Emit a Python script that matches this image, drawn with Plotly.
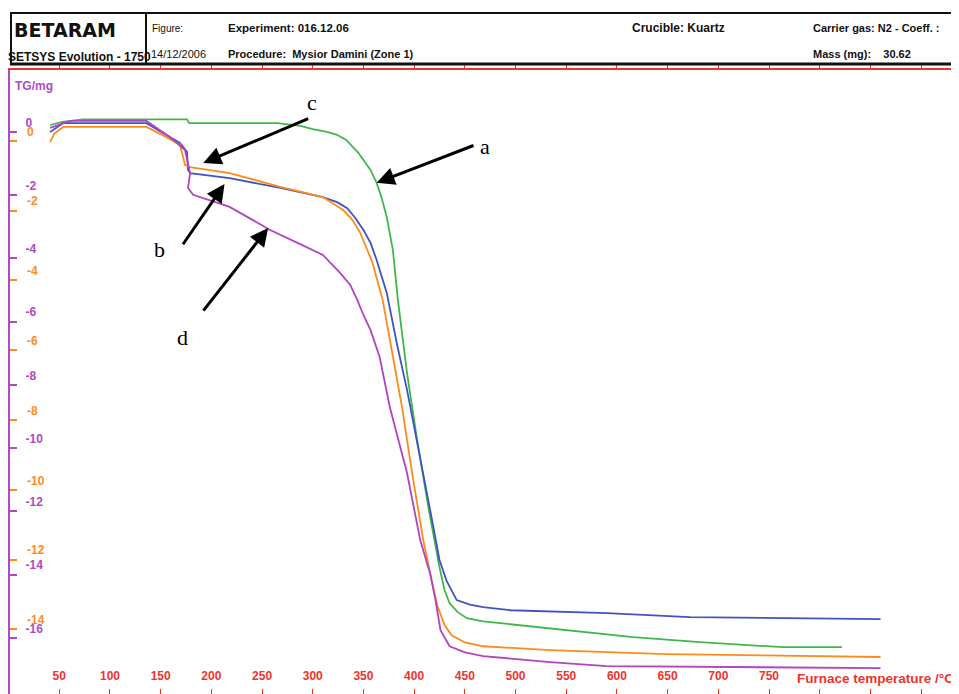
import plotly.graph_objects as go

# ---------------- data ----------------
temp_a = [41, 53, 73, 176, 178, 265, 288, 300, 314, 324, 333, 340, 345, 350, 357, 363, 368, 373, 379, 384,
          389, 393, 403, 414, 425, 430, 435, 443, 452, 468, 485, 551, 616, 682, 764, 822]
mass_a = [0.22, 0.32, 0.40, 0.40, 0.28, 0.28, 0.19, 0.09, 0.0, -0.09, -0.25, -0.47, -0.66, -0.89, -1.20, -1.61, -2.09, -2.69, -3.73, -5.32,
          -6.70, -7.63, -9.75, -11.87, -13.77, -14.50, -14.91, -15.19, -15.38, -15.48, -15.54, -15.76, -15.98, -16.14, -16.30, -16.30]

temp_b = [41, 54, 136, 152, 169, 176, 177, 179, 218, 268, 310, 324, 334, 342, 350, 357, 363, 373, 383, 393,
          406, 419, 425, 432, 442, 455, 468, 495, 590, 672, 860]
mass_b = [0.0, 0.28, 0.28, -0.03, -0.35, -0.63, -1.20, -1.30, -1.46, -1.77, -2.06, -2.22, -2.41, -2.72, -3.10, -3.51, -4.05, -5.09, -6.70, -8.16,
          -10.28, -12.50, -13.54, -14.20, -14.81, -14.95, -15.03, -15.13, -15.22, -15.35, -15.41]

temp_c = [41, 45, 54, 136, 152, 169, 174, 179, 218, 268, 310, 330, 339, 347, 353, 359, 369, 376, 388, 398,
          409, 416, 423, 430, 437, 450, 468, 534, 649, 860]
mass_c = [-0.32, -0.05, 0.16, 0.16, -0.10, -0.40, -1.04, -1.11, -1.30, -1.74, -2.06, -2.47, -2.78, -3.20, -3.67, -4.15, -5.32, -6.58, -8.70, -10.79,
          -12.91, -14.00, -15.00, -15.60, -15.92, -16.15, -16.27, -16.39, -16.52, -16.61]

temp_d = [41, 61, 136, 159, 174, 179, 177, 182, 218, 258, 285, 310, 327, 337, 344, 350, 357, 362, 366, 376,
          393, 406, 416, 421, 426, 435, 450, 468, 534, 590, 860]
mass_d = [0.13, 0.35, 0.35, -0.16, -0.57, -1.30, -1.77, -1.99, -2.37, -3.10, -3.51, -3.89, -4.46, -4.84, -5.32, -5.79, -6.27, -6.74, -7.12, -8.70,
          -10.79, -12.91, -14.00, -14.80, -15.76, -16.27, -16.46, -16.58, -16.77, -16.90, -16.96]

x_ticks = [50, 100, 150, 200, 250, 300, 350, 400, 450, 500, 550, 600, 650, 700, 750, 800, 850, 900]
x_tick_labels = ["50", "100", "150", "200", "250", "300", "350", "400", "450", "500", "550", "600", "650", "700", "750", "", "", ""]
y_ticks_purple = [0, -2, -4, -6, -8, -10, -12, -14, -16]
y_ticks_orange = [0, -2, -4, -6, -8, -10, -12, -14]

# labels and arrows: (label, text position T, mg, arrow tail T, mg, arrow head T, mg)
labels = [
    ("a", 470, -0.45, 460, -0.41, 363, -1.61),
    ("b", 149, -3.73, 171, -3.60, 213, -1.65),
    ("c", 299, 0.92, 297, 0.44, 192, -0.98),
    ("d", 172, -6.49, 191, -5.70, 256, -3.04),
]

# ---------------- styling ----------------
OFF = 8                      # default page body margin
PAGE_W, PAGE_H = 959, 694
W, H = PAGE_W - OFF, PAGE_H - OFF
PL, PT = 10, 70              # plot area left / top in page pixels
GREEN = "#3fb84a"
BLUE = "#4152c4"
ORANGE = "#ff8a1c"
MAGENTA = "#b243c2"
RED = "#f0332e"
PURPLE = "#b04ac0"


def px(x):
    return (x - PL) / (PAGE_W - PL)


def py(y):
    return (PAGE_H - y) / (PAGE_H - PT)


fig = go.Figure()
for t, m, c in [(temp_a, mass_a, GREEN), (temp_b, mass_b, BLUE),
                (temp_c, mass_c, ORANGE), (temp_d, mass_d, MAGENTA)]:
    fig.add_trace(go.Scatter(x=t, y=m, mode="lines", line=dict(color=c, width=1.8),
                             showlegend=False, hoverinfo="skip"))

# invisible helper so the secondary axes are drawn
fig.add_trace(go.Scatter(x=[100], y=[0], xaxis="x2", yaxis="y2", mode="markers",
                         marker=dict(opacity=0), showlegend=False, hoverinfo="skip"))

fig.update_layout(
    width=W, height=H,
    margin=dict(l=PL - OFF, r=0, t=PT - OFF, b=0),
    paper_bgcolor="white", plot_bgcolor="white",
    xaxis=dict(range=[1.4, 937.4], tickmode="array", tickvals=x_ticks, ticktext=x_tick_labels,
               ticks="inside", ticklen=5, tickcolor=RED, tickwidth=1,
               ticklabelposition="inside", ticklabelstandoff=6,
               tickfont=dict(family="Liberation Sans", size=12, color=RED, weight="bold"),
               showgrid=False, zeroline=False, showline=False),
    xaxis2=dict(range=[1.4, 937.4], overlaying="x", side="top", tickmode="array",
                tickvals=x_ticks, ticks="outside", ticklen=5, tickcolor=RED,
                showticklabels=False, showgrid=False, zeroline=False,
                showline=True, linecolor=RED, linewidth=2),
    yaxis=dict(range=[-17.78, 1.96], tickmode="array", tickvals=y_ticks_purple,
               ticktext=[str(v) for v in y_ticks_purple],
               ticks="inside", ticklen=7, tickcolor=PURPLE, tickwidth=2,
               ticklabelposition="inside top", ticklabelstandoff=14,
               tickfont=dict(family="Liberation Sans", size=12, color=PURPLE, weight="bold"),
               showgrid=False, zeroline=False, showline=True, linecolor=PURPLE, linewidth=2),
    yaxis2=dict(range=[-15.85, 2.03], overlaying="y", side="left", anchor="x",
                tickmode="array", tickvals=y_ticks_orange,
                ticktext=[str(v) for v in y_ticks_orange],
                ticks="inside", ticklen=7, tickcolor=ORANGE, tickwidth=2,
                ticklabelposition="inside top", ticklabelstandoff=14,
                tickfont=dict(family="Liberation Sans", size=12, color=ORANGE, weight="bold"),
                showgrid=False, zeroline=False, showline=False),
)

annotations = []
for lab, tx, ty, ax, ay, hx, hy in labels:
    annotations.append(dict(x=hx, y=hy, ax=ax, ay=ay, xref="x", yref="y", axref="x", ayref="y",
                            text="", showarrow=True, arrowhead=2, arrowsize=1.2, arrowwidth=3,
                            arrowcolor="black"))
    annotations.append(dict(x=tx, y=ty, xref="x", yref="y", text=lab, showarrow=False,
                            font=dict(family="Liberation Serif", size=22, color="black")))

hdr = dict(family="Liberation Sans", size=11, color="#111111", weight="bold")


def htext(x, y, s, font=hdr):
    annotations.append(dict(x=px(x), y=py(y), xref="paper", yref="paper", text=s,
                            showarrow=False, xanchor="left", yanchor="middle", font=font))


htext(12, 30, "BETARAM", dict(family="DejaVu Sans", size=19, color="#111111", weight="bold"))
htext(6, 57, "SETSYS Evolution - 1750", dict(family="Liberation Sans", size=12, color="#111111", weight="bold"))
htext(150, 28, "Figure:", dict(family="Liberation Sans", size=10, color="#111111"))
htext(226, 28, "Experiment: 016.12.06", dict(family="Liberation Sans", size=11.5, color="#111111", weight="bold"))
htext(149, 54, "14/12/2006", dict(family="Liberation Sans", size=11, color="#111111"))
htext(226, 54, "Procedure:  Mysior Damini (Zone 1)")
htext(630, 28, "Crucible: Kuartz", dict(family="Liberation Sans", size=12, color="#111111", weight="bold"))
htext(811, 28, "Carrier gas: N2 - Coeff. :")
htext(811, 54, "Mass (mg):    30.62")
htext(13, 86, "TG/mg", dict(family="Liberation Sans", size=12, color=PURPLE, weight="bold"))
htext(795, 678, "Furnace temperature /°C", dict(family="Liberation Sans", size=13.5, color=RED, weight="bold"))

fig.update_layout(annotations=annotations)

shapes = [
    dict(type="line", xref="paper", yref="paper", x0=px(10), x1=px(960), y0=py(13), y1=py(13),
         line=dict(color="#111111", width=2)),
    dict(type="line", xref="paper", yref="paper", x0=px(10), x1=px(960), y0=py(64), y1=py(64),
         line=dict(color="#111111", width=3)),
    dict(type="line", xref="paper", yref="paper", x0=px(11), x1=px(11), y0=py(13), y1=py(64),
         line=dict(color="#111111", width=2)),
    dict(type="line", xref="paper", yref="paper", x0=px(146), x1=px(146), y0=py(13), y1=py(64),
         line=dict(color="#111111", width=2)),
]
fig.update_layout(shapes=shapes)

fig.write_html("out.html")
